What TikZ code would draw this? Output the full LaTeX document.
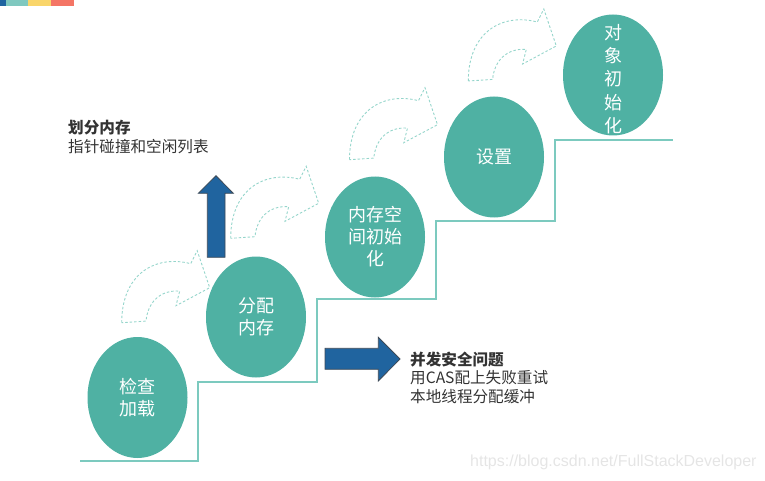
\documentclass[tikz,border=0pt]{standalone}
\usepackage{fontspec}
\setmainfont{Noto Sans CJK SC}
\newfontfamily\wmfont{Liberation Sans}
\definecolor{ellc}{HTML}{4FB1A3}
\definecolor{stairc}{HTML}{7CCABF}
\definecolor{dashc}{HTML}{95D5CB}
\definecolor{bluec}{HTML}{20649F}
\definecolor{blueedge}{HTML}{3D4A57}
\definecolor{barA}{HTML}{1F64A0}
\definecolor{barB}{HTML}{7FC8BF}
\definecolor{barC}{HTML}{F9D56A}
\definecolor{barD}{HTML}{F47565}
\definecolor{txtc}{HTML}{333333}
\tikzset{
  ell/.style={ellipse, fill=ellc, text=white, minimum width=100pt, minimum height=121pt,
    inner sep=0pt, align=center, font=\fontsize{18}{22}\selectfont},
  stair/.style={draw=stairc, line width=2pt},
  dasharrow/.style={draw=dashc, dashed, dash pattern=on 2.5pt off 2pt, line width=0.9pt},
  bigarrow/.style={fill=bluec, draw=blueedge, line width=0.8pt},
  note/.style={anchor=north west, align=left, inner sep=0pt, text=txtc, font=\fontsize{15.6}{18.7}\selectfont},
  curvarrow/.pic={
    \draw[dasharrow] (0,0) .. controls (0,-50) and (35,-68) .. (69,-59)
      -- (75.5,-72) -- (88,-35) -- (54.3,-17) -- (58,-31.6)
      .. controls (38,-33) and (26,-20) .. (24.3,-1.6) -- cycle;
  }
}
\usetikzlibrary{shapes.geometric}
\begin{document}
\begin{tikzpicture}[x=1pt,y=-1pt]
\useasboundingbox (0,0) rectangle (765,481);
% top colour bar
\fill[barA] (0,0) rectangle (6,5.7);
\fill[barB] (6,0) rectangle (28,5.7);
\fill[barC] (28,0) rectangle (51,5.7);
\fill[barD] (51,0) rectangle (74,5.7);
% stairs
\draw[stair] (80,461) -- (198,461) -- (198,381.5) -- (317,381.5) -- (317,299)
  -- (436,299) -- (436,220.5) -- (555,220.5) -- (555,140.5) -- (673,140.5);
% dashed curved arrows
\pic at (121.7,322.7) {curvarrow};
\pic at (230.7,238.3) {curvarrow};
\pic at (349.5,159.7) {curvarrow};
\pic at (468.3,81) {curvarrow};
% ellipses
\node[ell] (e1) at (137.5,397.5) {检查\\加载};
\node[ell] (e2) at (256,317) {分配\\内存};
\node[ell] (e3) at (375,237) {内存空\\间初始\\化};
\node[ell] (e4) at (494,157) {设置};
\node[ell, minimum height=121pt] (e5) at (613,75) {};
\node[align=center, text=white, inner sep=0pt, font=\fontsize{18}{23.2}\selectfont] (e5t) at (613,79) {对\\象\\初\\始\\化};
% blue arrows
\draw[bigarrow] (207.3,257.3) -- (207.3,193.3) -- (198.3,193.3) -- (216,175.7)
  -- (233.3,193.3) -- (225,193.3) -- (225,257.3) -- cycle;
\draw[bigarrow] (325,348.3) -- (378.3,348.3) -- (378.3,337.3) -- (400,359)
  -- (378.3,381) -- (378.3,369.3) -- (325,369.3) -- cycle;
% notes
\node[note] (n1) at (68,120) {\textbf{划分内存}\\指针碰撞和空闲列表};
\node[note] (n2) at (410,351.5) {\textbf{并发安全问题}\\用CAS配上失败重试\\本地线程分配缓冲};
% watermark
\node[anchor=west, inner sep=0pt, text=black!10, font=\wmfont\fontsize{16}{18}\selectfont] (wm) at (470,462) {https://blog.csdn.net/FullStackDeveloper};
\end{tikzpicture}
\end{document}
